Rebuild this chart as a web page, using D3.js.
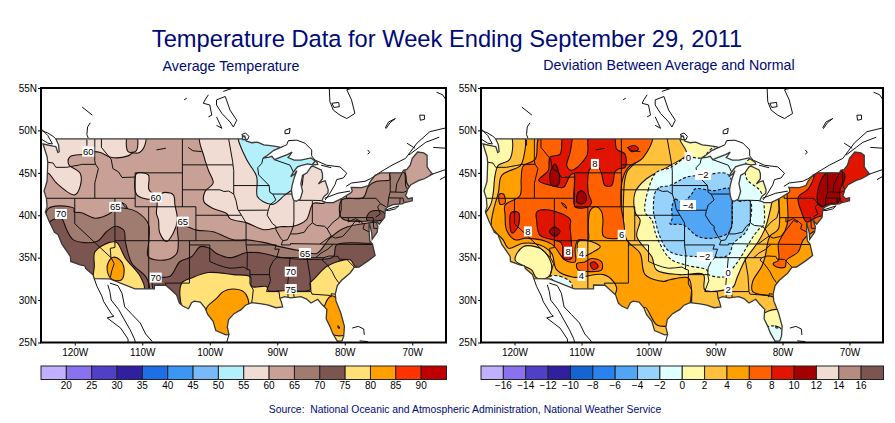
<!DOCTYPE html>
<html>
<head>
<meta charset="utf-8">
<script src="https://cdnjs.cloudflare.com/ajax/libs/d3/7.8.5/d3.min.js"></script>
<style>
  html, body { margin: 0; padding: 0; background: #fff; }
  text { font-family: "Liberation Sans", Arial, sans-serif; }
</style>
</head>
<body>
<svg id="chart" width="895" height="423"></svg>
<script>
// everything below is lon/lat or degrees F
const tempLevels = [20,25,30,35,40,45,50,55,60,65,70,75,80,85,90];
const devLevels = [-16,-14,-12,-10,-8,-6,-4,-2,0,2,4,6,8,10,12,14,16];
const tempColors = ['#c0b0ff','#8a72ee','#5040c8','#3020a0','#1e6ee6','#3c96f5','#78b9fa','#b4f0fa','#f0dcd2','#c8a096','#a07c70','#7d5550','#ffe178','#ffa000','#ff3200','#c00000'];
const devColors = ['#c0b0ff','#8a72ee','#5040c8','#3020a0','#1464d2','#2882f0','#50a5f5','#96d2fa','#e1ffff','#fffaaa','#ffc03c','#ffa000','#ff6000','#e11400','#a50000','#f0dcd2','#b48c82','#7d5550'];
const latTicks = [25,30,35,40,45,50,55];
const lonTicks = [-120,-110,-100,-90,-80,-70];

const usOutline = [[-124.7,48.4],[-123.2,48.15],[-122.8,48.1],[-122.5,47.4],[-122.3,47.5],[-122.4,48.3],[-122.8,49],[-95.15,49],[-95.15,49.38],[-94.8,49.3],[-94.6,48.75],[-93.8,48.55],[-92.95,48.62],[-92,48.3],[-91,48.2],[-90,48.1],[-89.5,48],[-90.5,47.65],[-91.5,47.05],[-92.1,46.75],[-91.2,46.85],[-90.8,46.95],[-90.4,46.55],[-89.5,46.85],[-88.5,47.15],[-87.8,47.45],[-88.2,47],[-88.4,46.8],[-87.5,46.5],[-86.5,46.5],[-85,46.75],[-84.5,46.45],[-84.1,46.25],[-84,46],[-84.7,45.95],[-85.5,46.05],[-86.5,45.85],[-87,45.7],[-87.6,45.1],[-88,44.55],[-87.4,44.9],[-87.1,45.25],[-87.5,44.4],[-87.8,43.5],[-87.9,43],[-87.8,42.3],[-87.6,41.8],[-87.2,41.65],[-86.6,41.9],[-86.25,42.8],[-86.5,43.7],[-86.25,44.7],[-85.6,45],[-85,45.7],[-84.7,45.78],[-83.5,45.35],[-83.3,44.9],[-83.3,44.3],[-83.9,43.7],[-83.4,43.95],[-82.9,44.05],[-82.45,43],[-82.5,42.6],[-83.1,42.2],[-83.4,41.7],[-82.7,41.5],[-81.7,41.5],[-80.5,41.95],[-79,42.7],[-78.9,42.9],[-79.05,43.27],[-77.5,43.25],[-76.5,43.5],[-76.2,44],[-75.5,44.7],[-74.7,45],[-71.5,45],[-71.3,45.3],[-70.8,45.4],[-70.3,45.9],[-70,46.7],[-69.2,47.45],[-68.3,47.35],[-67.8,47.05],[-67.8,45.7],[-67.45,45.3],[-67,44.85],[-68.2,44.3],[-69,44.1],[-70.2,43.6],[-70.7,43.05],[-70.8,42.7],[-71,42.3],[-70.6,41.95],[-70,42.05],[-70,41.7],[-71.1,41.5],[-71.5,41.35],[-72.9,41.25],[-73.7,40.95],[-74,40.7],[-74,40.5],[-74.1,39.75],[-74.9,38.95],[-75.5,39.5],[-75.1,38.7],[-75.2,38],[-75.95,37.15],[-76,37.9],[-76.4,39.2],[-76.4,38.3],[-76.3,37],[-75.9,36.6],[-75.5,35.25],[-76.5,34.65],[-77.9,33.9],[-78.6,33.85],[-79.2,33.2],[-80.5,32.3],[-81.1,31.7],[-81.4,30.7],[-81.3,29.9],[-80.6,28.5],[-80.05,26.9],[-80.15,25.75],[-80.4,25.2],[-81.1,25.15],[-81.8,26.1],[-82.2,26.9],[-82.75,27.8],[-82.65,28.9],[-83.4,29.5],[-84,30.1],[-85,29.65],[-85.7,30.15],[-86.5,30.4],[-88,30.25],[-88.9,30.4],[-89.6,30.2],[-89.4,29.8],[-89.2,29.2],[-90.2,29.1],[-91.3,29.4],[-92.3,29.55],[-93.8,29.7],[-94.7,29.4],[-95.3,28.9],[-96.4,28.4],[-97.2,27.7],[-97.4,26.8],[-97.15,25.95],[-97.6,25.9],[-99.1,26.4],[-99.5,27.5],[-100.3,28.3],[-100.7,29.1],[-101.4,29.77],[-102.3,29.88],[-102.7,29.7],[-103.15,28.98],[-104,29.3],[-104.5,29.65],[-104.9,30.6],[-106.5,31.75],[-108.2,31.78],[-108.2,31.33],[-111.07,31.33],[-114.8,32.5],[-117.12,32.53],[-117.3,33],[-118.4,33.75],[-118.5,34.03],[-119.2,34.15],[-120.6,34.55],[-120.65,35.15],[-121.9,36.6],[-122.5,37.75],[-123,38],[-123.8,39.3],[-124.35,40.4],[-124.1,41],[-124.2,42],[-124.55,42.85],[-124.1,44],[-124,46.2],[-124.1,46.9]];

const stateLines = [
  [[-124,46.25],[-123.2,46.15],[-122.8,45.65],[-121.2,45.65],[-119.3,45.93],[-118.98,46],[-116.92,46]],
  [[-117.03,49],[-117.04,46.42],[-116.92,46],[-116.5,45.5],[-116.9,44.2],[-117.03,43.8],[-117.03,42]],
  [[-124.2,42],[-111.05,42]],
  [[-120,42],[-120,39],[-114.63,35],[-114.15,34.3],[-114.5,33.5],[-114.72,32.72]],
  [[-114.05,42],[-114.05,36.2],[-114.75,36.1],[-114.63,35]],
  [[-114.05,37],[-94.62,37]],
  [[-116.05,49],[-116.05,48],[-114.6,46.6],[-114.35,45.5],[-113.5,45.1],[-113,44.45],[-111.05,44.5]],
  [[-111.05,45],[-104.05,45]],
  [[-111.05,45],[-111.05,41],[-102.05,41],[-102.05,37]],
  [[-109.05,41],[-109.05,31.33]],
  [[-104.05,49],[-104.05,41]],
  [[-104.05,45.94],[-96.56,45.94]],
  [[-104.05,43],[-98.5,43],[-97.9,42.8],[-97.2,42.85],[-96.45,42.5]],
  [[-102.05,40],[-95.3,40]],
  [[-103,37],[-103,32],[-106.6,32],[-106.5,31.75]],
  [[-103,36.5],[-100,36.5],[-100,34.56],[-99,34.2],[-97.9,33.9],[-97,33.75],[-96,33.8],[-95,33.9],[-94.48,33.64],[-94.05,33.55],[-94.05,31.9],[-93.55,31.2],[-93.7,30.1],[-93.8,29.7]],
  [[-94.62,39.1],[-94.62,36.5],[-94.43,35.4],[-94.48,33.64]],
  [[-94.62,39.1],[-95.3,40]],
  [[-94.62,36.5],[-90.15,36.5],[-90.37,36],[-89.7,36],[-90.1,35],[-90.6,34.6],[-91.1,33.8],[-91.15,33],[-91,32.3],[-91.6,31],[-89.75,31],[-89.6,30.2]],
  [[-94.05,33],[-91.15,33]],
  [[-88.2,35],[-88.1,34.9],[-88.45,31.9],[-88.4,30.3]],
  [[-90.1,35],[-83.1,35]],
  [[-85.6,35],[-85.15,32.85],[-85,31],[-87.6,31],[-87.5,30.3]],
  [[-85,31],[-84.85,30.7],[-82.2,30.55],[-82.05,30.35],[-82,30.75],[-81.45,30.7]],
  [[-83.1,35],[-83.35,34.7],[-82.75,34.3],[-81.9,33.4],[-81.4,32.6],[-80.9,32.05]],
  [[-83.1,35],[-82.3,35.2],[-81,35.15],[-80.8,34.82],[-79.7,34.8],[-78.55,33.85]],
  [[-84.3,35],[-83.5,35.55],[-82.5,36],[-81.7,36.58]],
  [[-89.4,36.5],[-88.05,36.5],[-88.05,36.65],[-83.68,36.6],[-75.9,36.55]],
  [[-89.4,36.5],[-89.2,37],[-88.5,37.1],[-88.05,37.8],[-87.1,37.8],[-86,38],[-85.4,38.7],[-84.8,39.1],[-84.2,38.8],[-83,38.7],[-82.6,38.4],[-82,37.55],[-83.68,36.6]],
  [[-82.6,38.4],[-81.7,39.2],[-80.85,39.7],[-80.52,40.64],[-80.52,41.98]],
  [[-82,37.55],[-81.4,37.3],[-80.3,37.5],[-79.3,38.4],[-78.35,39.4],[-77.8,39.15],[-77.72,39.32],[-78.4,39.6],[-79.48,39.2],[-79.48,39.72]],
  [[-80.52,39.72],[-75.79,39.72],[-75.7,38.46],[-75.05,38.45]],
  [[-77.72,39.32],[-77.1,38.9],[-77.3,38.4],[-76.3,38]],
  [[-79.76,42.27],[-79.76,42],[-75.35,42],[-74.7,41.36],[-75.13,40.98],[-74.72,40.15],[-75.4,39.8]],
  [[-74.7,41.36],[-73.9,41]],
  [[-73.65,41],[-73.5,42.05],[-73.27,42.75],[-73.25,43.6],[-73.35,45]],
  [[-73.5,42.05],[-71.38,42.02],[-71.2,41.5]],
  [[-71.8,42.02],[-71.85,41.32]],
  [[-73.27,42.75],[-71.3,42.7],[-70.8,42.87]],
  [[-72.46,42.73],[-72.3,43.7],[-71.5,45]],
  [[-71.08,45.3],[-70.98,43.4],[-70.7,43.08]],
  [[-86.8,41.76],[-84.8,41.76],[-83.45,41.73]],
  [[-84.8,41.7],[-84.8,39.1]],
  [[-87.53,41.7],[-87.53,39.35],[-87.6,38.7],[-88.05,37.8]],
  [[-90.65,42.5],[-87.8,42.5]],
  [[-92.1,46.75],[-92.3,46.1],[-92.9,45.6],[-92.75,44.75],[-91.2,43.5],[-91.1,42.7],[-90.65,42.5],[-90.2,41.8],[-91.1,41.2],[-91.4,40.4],[-91.5,40],[-90.7,39],[-90.2,38.7],[-90.2,38.3],[-89.5,37.3],[-89.15,37]],
  [[-95.77,40.58],[-91.4,40.6]],
  [[-96.45,43.5],[-91.2,43.5]],
  [[-96.45,43.5],[-96.45,42.5],[-96.1,41.7],[-95.85,40.7],[-95.3,40]],
  [[-97.2,49],[-96.6,46.3],[-96.56,45.94],[-96.45,45.3],[-96.45,43.5]],
  [[-90.4,46.55],[-88.1,45.9],[-87.6,45.1]]
];

const otherCoasts = [
  [[-125,50.2],[-124,49.4],[-123.3,48.4],[-124,48.5],[-125,49]],
  [[-125,50],[-124,49.7],[-123.2,49.3],[-122.8,49]],
  [[-118.9,52.75],[-117.4,51.8]],
  [[-117.7,50.9],[-118.1,50.4],[-118.2,49.5],[-118,49.1]],
  [[-118.2,48.9],[-118.2,48.2]],
  [[-103.8,53.6],[-103.4,53.8]],
  [[-100.2,54.2],[-100.7,53.6],[-100.95,53.2],[-100,53],[-99.7,51.8],[-100.2,51.6]],
  [[-99,53],[-99,53.6],[-97.7,54],[-97,52.4],[-96,51.2],[-96.5,50.4],[-97,51],[-98.2,52],[-99,53]],
  [[-98,54.6],[-96.5,55]],
  [[-99,51.6],[-98.2,50.25],[-99,50.6]],
  [[-95.3,49.5],[-94.7,49.7],[-94.2,49.3],[-94.4,48.9],[-95.2,48.9]],
  [[-88.85,50],[-88.1,50.25],[-88.2,49.65],[-88.85,49.6],[-88.85,50]],
  [[-89.5,48],[-88.6,48.3],[-88.35,48.8],[-87.1,48.85],[-85.9,48.5],[-84.9,47.7],[-84.9,47],[-84.4,46.5],[-82.7,45.9],[-80.7,45.7],[-79.7,44.95],[-80.2,44.4],[-81.2,44.2],[-81.45,43.6],[-82.2,42.6],[-82.9,41.8]],
  [[-83.5,45.9],[-82,45.6]],
  [[-83,42],[-81,42.6],[-79.2,42.85]],
  [[-79.8,43.4],[-79,43.8],[-77,44],[-76.2,44.3],[-74.7,45.1],[-73,45.9],[-71,46.7],[-69.3,48.5],[-67.4,49.85],[-65,50.3]],
  [[-70.5,47.1],[-69,48],[-68,48.6],[-66,49.2]],
  [[-66.9,48],[-65,47.9]],
  [[-70.8,48.5],[-69.6,47.9]],
  [[-67.4,44.75],[-65,45.4]],
  [[-65.9,44.2],[-65,44.6]],
  [[-82.3,55],[-82.2,53.4],[-81.7,52.4],[-80.7,51.8],[-79.7,51.4],[-78.5,52],[-79,53.6],[-79.7,54.8],[-78.7,55]],
  [[-81.9,53.2],[-80.9,53.3],[-80.8,52.8],[-81.6,52.7],[-81.9,53.2]],
  [[-74,50.3],[-73.5,51],[-72.5,51.4],[-73.3,50.9],[-73.9,50.2]],
  [[-68.9,51.8],[-68.2,51.8],[-68.2,51.3],[-68.8,51.2],[-68.9,51.8]],
  [[-76.6,47.7],[-76.3,47.4],[-76.6,47.2]],
  [[-66.4,54.5],[-65.5,54.2],[-65,53.6]],
  [[-74,40.6],[-72,41.1],[-72.5,40.75],[-73.5,40.55],[-74,40.6]],
  [[-117.1,32.5],[-116.7,31.6],[-116,30.5],[-115.7,29.8],[-114.5,28.3],[-114.2,28.1],[-115.2,27.9],[-114.2,27.3],[-113.2,26.7],[-112.1,25.4],[-112.1,25]],
  [[-115.1,31.8],[-114.8,31],[-114.6,30],[-113.5,28.9],[-112.8,27.9],[-111.8,26.5],[-111.2,25.5],[-111,25]],
  [[-114.8,32],[-113.6,31.7],[-113,30.8],[-112.6,29.2],[-111.5,28.3],[-110.3,27.3],[-109.5,26],[-108.5,25.1]],
  [[-97.15,25.95],[-97.5,25]],
  [[-78.9,26.7],[-78,26.9],[-77.2,26.6],[-77.1,25.9]],
  [[-77.8,25.2],[-76.6,25.1]],
  [[-81,27],[-80.7,26.7],[-81,26.7],[-81,27]],
  [[-107.9,47.7],[-106.5,47.9]],
  [[-103.2,48],[-102.5,47.6],[-101.2,47.5]],
  [[-113,41.5],[-112.4,41.2],[-112.2,40.8],[-112.7,41.1],[-113,41.5]]
];

// [lower bound of the band, ring], painted in order over the base value
const tempBase = 60;
const tempBands = [
  [55, [[-125,49.5],[-109.6,49.5],[-109.6,48.3],[-110.4,47.4],[-111.5,47.3],[-112.1,47],[-114.5,46.8],[-116.2,47.4],[-117.2,47.5],[-118.5,47.2],[-120.7,46.9],[-120.9,46],[-119.2,44.95],[-119.2,43.4],[-120,42.4],[-122.7,43.8],[-123.9,44.95],[-125,45]]],
  [60, [[-112.1,49.6],[-110.9,49.6],[-110.9,47.6],[-112.1,47.5]]],
  [55, [[-110.8,44.95],[-109.1,44.75],[-109,43],[-107.9,42.4],[-106.6,42.7],[-105.4,42.4],[-105.15,41.2],[-104.8,39.45],[-105.4,37.9],[-106.4,36.9],[-107.4,37.9],[-107.6,39.45],[-107.9,40.2],[-107.9,41.8],[-109.3,41.9],[-110.8,42.4],[-111.1,44.2]]],
  [55, [[-101.4,49.5],[-100.85,46.9],[-100.2,45.3],[-99.5,43.8],[-100.7,42.8],[-100.85,41.6],[-99.5,40.8],[-97.5,40.2],[-97,39.6],[-94.5,39.1],[-92,38.3],[-90.3,38.5],[-89.6,38.65],[-87.6,38.7],[-85.7,39.45],[-84.65,41.4],[-83.2,41.4],[-82,42],[-82,46.5],[-90,47],[-94,49.5]]],
  [50, [[-95.8,49.6],[-95.8,49],[-94.5,46.5],[-93.05,44.55],[-92.95,42.2],[-92.06,41.6],[-90.6,41.3],[-88.85,42.4],[-87.7,43],[-86.4,43.4],[-86.1,44.75],[-84.9,45.9],[-84.25,46.7],[-87.1,49.3]]],
  [65, [[-124.5,39.8],[-123.9,40.8],[-122.2,41.1],[-120.1,40.8],[-120.1,40.4],[-119,40.3],[-117,39.65],[-114.8,40.2],[-114,40.8],[-112.3,40.8],[-110.8,40.4],[-109.1,39],[-109,37.1],[-109.1,35.1],[-106.4,34.75],[-104.9,35.5],[-104.65,36.9],[-104.65,38.85],[-101.95,38.25],[-99.5,38.05],[-96.5,37.1],[-94.5,37.1],[-92.05,36.8],[-89.6,36.3],[-85.9,35.7],[-84.15,35.5],[-82.2,37.3],[-80.2,38.45],[-76.75,39.05],[-75,39.05],[-74,36],[-75,30],[-100,25],[-120,30],[-126,38]]],
  [65, [[-80.45,41.8],[-77.25,42.1],[-76.5,43.4],[-75.3,44],[-73.3,44.2],[-73.3,44.95],[-71.1,44.95],[-70.8,43.8],[-69.8,42.6],[-69.5,41],[-73,39],[-74,39.8],[-77,39.3],[-80.45,39.65]]],
  [70, [[-76.25,40.4],[-74.3,40.4],[-74,39.6],[-76.75,39.45]]],
  [70, [[-122.05,39.65],[-121.2,38.3],[-120.2,37.1],[-116.75,36.9],[-115.3,38.05],[-114,38.7],[-112.7,38.2],[-112.5,36.9],[-111.55,34.35],[-109.35,32.6],[-109.1,31],[-117,31],[-122,33.5],[-124,37],[-124,39]]],
  [70, [[-108.35,32.55],[-105.9,32.8],[-104.4,34.55],[-102.7,35.1],[-101.4,36.3],[-100,36.1],[-99,35.5],[-97,35],[-94.5,35.6],[-92,35.5],[-90,35.1],[-88,34.9],[-85.1,34.8],[-81.7,35.1],[-81.2,36.5],[-76.3,36.7],[-74,36.7],[-74,33],[-74,30],[-100,26],[-108,30.5]]],
  [75, [[-117,35.7],[-114.85,36.8],[-113.8,36.8],[-112.5,34.95],[-110.3,32.8],[-109.75,31.2],[-116,31],[-117.2,32.6],[-117.1,34]]],
  [80, [[-115,34.5],[-114.3,35.05],[-113.3,34.75],[-112.7,33.75],[-113.05,32.4],[-114.5,32.45],[-115.2,33.55]]],
  [75, [[-104.15,32],[-102.7,32.6],[-100.2,33.25],[-96.5,33],[-94,32.75],[-93.8,31.6],[-91.6,31.6],[-91.3,31.1],[-89.1,31.1],[-85.15,31.2],[-85.15,32],[-84.65,32.4],[-82.7,33.95],[-81,34.55],[-79.2,34.75],[-78.5,34],[-77,33],[-79,30],[-80,24],[-90,27],[-100,26],[-104,29]]],
  [80, [[-100.5,29],[-99,30.2],[-98,31],[-96.7,31.3],[-95,31],[-94.4,30.3],[-94.2,29.2],[-95,27],[-97,25],[-100,27]]],
  [80, [[-82,30.5],[-81,30],[-79.8,27.7],[-79.4,26.1],[-81.7,25.9],[-83,27.3],[-83,29.3]]]
];

const devBase = 4;
const devBands = [
  [2, [[-99.3,49.6],[-99.5,49],[-101.3,46.65],[-103.25,45.05],[-103.75,41.5],[-103.75,39.95],[-103.75,39.44],[-103.25,37.1],[-101.25,35.5],[-100.5,33],[-97.8,32.2],[-96.8,32.4],[-94.05,32.6],[-93.55,31],[-93.55,29.8],[-93,28],[-85,27.8],[-82.4,27.9],[-81.4,28.6],[-80.4,29],[-78,30],[-70,35],[-66,42],[-66,48],[-75,48],[-90,50]]],
  [0, [[-83,28.2],[-81,28.9],[-79.5,28.5],[-79.5,25.8],[-83,25.5]]],
  [-2, [[-82.3,26.8],[-80.5,26.8],[-80,26.3],[-80,24.5],[-82,24.5]]],
  [0, [[-95.3,50],[-95.3,48.9],[-94.3,47.2],[-96.8,45.85],[-100.3,44.3],[-102,42.7],[-102,40.35],[-101.25,39.44],[-101.75,37.5],[-99.5,35.1],[-98.8,33.55],[-95.3,33],[-91.8,33],[-91.6,31.2],[-88.6,31.2],[-87.3,31.6],[-86.8,32.6],[-85.6,34.7],[-83.6,36.9],[-82.6,38.45],[-81.6,41.5],[-81.4,42.7],[-82.1,43.5],[-82.4,45.1],[-84.6,47],[-87,50]]],
  [-2, [[-98.8,45.07],[-100,43.1],[-100.5,40.35],[-99.5,39.44],[-98.8,37.5],[-96.8,34.9],[-94.3,34.1],[-91.3,33.55],[-91.05,33],[-88.3,32.8],[-87.6,33.55],[-86.35,34.9],[-84.85,36.9],[-83.6,38.3],[-82.85,38.8],[-82.85,41.7],[-83.35,42.9],[-85.35,44.3],[-85.45,46.2],[-84.85,46.8],[-87,48.5],[-90.3,48],[-92,46.8],[-94.3,46.8],[-96.8,45.6]]],
  [-4, [[-99,42.7],[-98.3,43.3],[-96.8,43.5],[-94.3,44.5],[-91.8,44.7],[-88.3,44.9],[-87.3,43.5],[-86.6,41.7],[-84.85,41.7],[-84.85,39.2],[-85.6,37.9],[-87.3,36.7],[-88.1,35.3],[-91.3,35.1],[-96.8,35.7],[-98.3,37.5],[-99,39.44],[-99.25,40.35]]],
  [-6, [[-96.5,41],[-96,41.9],[-95,41.5],[-93.55,42.5],[-93.05,43.1],[-90.3,42.9],[-87.8,43.1],[-87.5,40.35],[-87.6,38.6],[-88.1,37.9],[-90.3,37.3],[-92.6,37.5],[-94.8,38.85],[-96.8,39],[-96.5,39.5]]],
  [2, [[-118.7,49.6],[-118.7,46.6],[-119.2,45.8],[-121.9,44.7],[-122.4,42.7],[-123.2,40.4],[-123.4,38.65],[-121.7,37.1],[-120.9,36.1],[-118.7,36.7],[-116.2,36.5],[-114.45,35.5],[-113.7,33.55],[-111.2,32.7],[-106.7,33],[-105.25,32.2],[-104.75,31.2],[-106,30],[-118,30],[-126,36],[-126,49.6]]],
  [0, [[-120.7,49.6],[-120.7,46.6],[-122.4,45.9],[-122.9,44.7],[-123.2,42.5],[-123.65,41.1],[-125,40],[-126,49.6]]],
  [0, [[-119.9,34.7],[-118.7,36.3],[-116.2,36.1],[-114.95,35.1],[-114.45,33.55],[-115.2,32.6],[-116.7,32.6],[-117.45,33.55]]],
  [-2, [[-114.7,32.8],[-113.2,32.8],[-111.5,32],[-111.5,31.3],[-113.2,31.7]]],
  [2, [[-100.5,29.15],[-98.8,27.1],[-97.5,26.9],[-96.5,27],[-97,25],[-99,25.5],[-101,28]]],
  [6, [[-116,49.6],[-99.5,49.6],[-100.8,46.8],[-103,45.65],[-103.85,44.3],[-104.1,41.1],[-103.75,39.44],[-103.75,37.5],[-106.7,37.5],[-106.8,39.44],[-107,40.4],[-107.8,41],[-108.7,40.55],[-109,38.4],[-109,37.1],[-110.5,37.1],[-110.95,36.1],[-110.95,34.5],[-112.45,34.7],[-114.45,36.6],[-118.2,37.3],[-119.9,37.1],[-121.2,38.3],[-121.4,40],[-121.4,41.2],[-119.2,42.3],[-119,44.3],[-118.7,45.8],[-116.9,46.6]]],
  [2, [[-110.5,36.9],[-109,37],[-107.2,36.3],[-108.2,35.7],[-110.2,35.1]]],
  [6, [[-110.7,34.3],[-109.5,34.5],[-108.5,34.9],[-107,34.5],[-107,33.55],[-108.7,33.35],[-110.5,33.55]]],
  [8, [[-108.7,34.3],[-108.1,34.5],[-107.5,33.95],[-108.2,33.6]]],
  [6, [[-122.25,42.5],[-121.65,42.5],[-121.4,41.45],[-122.15,41.3]]],
  [8, [[-116.4,44.1],[-114.95,45.3],[-114.7,46.85],[-113.2,47.2],[-112.7,49.6],[-111.5,49.6],[-111.7,47.4],[-112.2,45.85],[-111.5,45.3],[-109.2,47],[-108.8,49.6],[-105.25,49.6],[-104.75,47.8],[-103.5,47.2],[-103.5,45.65],[-104.5,45.45],[-105,45.1],[-105.5,43.5],[-106.5,43.5],[-107,44.9],[-107.5,45.65],[-108.7,45.5],[-109,42.7],[-108.5,41.5],[-109,41],[-110.95,41],[-111.1,44.9],[-111.7,44.7],[-112.7,43.3],[-114.45,43.5]]],
  [10, [[-114.7,44.9],[-113.95,46.05],[-113.3,44.7],[-113.45,43.6],[-114.45,43.5]]],
  [10, [[-110.6,42.5],[-110,42.9],[-109.3,42.3],[-109.5,41.45],[-110.6,41.45]]],
  [8, [[-120.5,40.3],[-119.4,40.3],[-119.5,38.6],[-120.4,37.9]]],
  [8, [[-116.7,40.35],[-115.2,40.65],[-111.7,39.55],[-111.7,38.65],[-111.5,36.7],[-111.5,34.9],[-112.7,34.9],[-113,36.7],[-116.2,37.65],[-116.7,39.44]]],
  [10, [[-114.8,38.1],[-114,38.6],[-113.2,38.1],[-114,37.5]]],
  [8, [[-103,48],[-102,48.2],[-101.5,47.8],[-102.5,47.5]]],
  [4, [[-80.8,44],[-80.8,43.5],[-80.6,38.4],[-81.9,37.5],[-82.6,35.1],[-83.1,33.95],[-84.45,32.2],[-84.45,31],[-81.9,30.5],[-79,30],[-70,36],[-70,44]]],
  [6, [[-79.3,42.6],[-79.2,39.4],[-79.6,38.2],[-80.6,36.7],[-80.6,34.7],[-81.4,34.3],[-80.9,33.9],[-79.6,33.9],[-79.4,34.7],[-77.65,35.7],[-76.9,37.1],[-75.5,38],[-70,40],[-70,44],[-79,44]]],
  [8, [[-77.65,42.1],[-77.15,40.35],[-76.4,39.2],[-74.9,39.75],[-70,41],[-66,47],[-67,48],[-75,46],[-75.15,44.9],[-76.15,43.1]]],
  [10, [[-74.75,41.5],[-74.55,43.5],[-73.4,45],[-70.9,45.05],[-70.7,44.3],[-71.4,43.1],[-71.65,41.5],[-73.4,41.3],[-74.1,41]]]
];

const tempLabels = [[60,-118,47.5],[65,-114,41],[70,-122.05,40.15],[60,-108,42.1],[65,-104,39.25],[70,-108,32.65],[65,-85.9,35.55],[70,-88,33.35],[75,-88,31.3]];
const devLabels = [[8,-108,46.05],[0,-94.05,46.85],[-2,-91.85,44.75],[-4,-94.1,41.2],[8,-118,38.1],[6,-104,37.7],[8,-112,35.7],[4,-110,35.55],[4,-110,32.85],[-2,-91.6,35.1],[0,-88.1,33.2],[2,-88.1,31.2]];

const navy = '#000a78';
const svg = d3.select('#chart');
const fmtNum = d => String(d).replace('-', '\u2212');

svg.append('text').attr('x', 447).attr('y', 47).attr('text-anchor', 'middle')
  .attr('font-size', 23.7).attr('fill', navy)
  .text('Temperature Data for Week Ending September 29, 2011');
svg.append('text').attr('x', 231).attr('y', 71).attr('text-anchor', 'middle')
  .attr('font-size', 14.3).attr('fill', navy).text('Average Temperature');
svg.append('text').attr('x', 669).attr('y', 70).attr('text-anchor', 'middle')
  .attr('font-size', 14.2).attr('fill', navy).text('Deviation Between Average and Normal');
svg.append('text').attr('x', 465).attr('y', 413).attr('text-anchor', 'middle')
  .attr('font-size', 10.4).attr('fill', navy).style('white-space', 'pre')
  .text('Source:  National Oceanic and Atmospheric Administration, National Weather Service');

function drawMap(id, x0, x1, base, bands, labels, levels, colors) {
  const x = d3.scaleLinear().domain([-125, -65]).range([x0, x1]);
  const y = d3.scaleLinear().domain([25, 55]).range([342.5, 88]);
  const color = d3.scaleThreshold().domain(levels).range(colors);
  const g = svg.append('g');

  const open = d3.line().x(d => x(d[0])).y(d => y(d[1]));
  const closed = d3.line().x(d => x(d[0])).y(d => y(d[1])).curve(d3.curveLinearClosed);
  const smooth = d3.line().x(d => x(d[0])).y(d => y(d[1])).curve(d3.curveCatmullRomClosed.alpha(0.5));

  const defs = svg.append('defs');
  defs.append('clipPath').attr('id', 'us' + id).append('path').attr('d', closed(usOutline));
  defs.append('clipPath').attr('id', 'frame' + id).append('rect')
    .attr('x', x0).attr('y', 88).attr('width', x1 - x0).attr('height', 254.5);

  g.append('path').attr('d', closed(usOutline)).attr('fill', color(base));

  const fills = g.append('g').attr('clip-path', 'url(#us' + id + ')');
  fills.selectAll('path').data(bands).join('path')
    .attr('d', d => smooth(d[1]))
    .attr('fill', d => color(d[0]))
    .attr('stroke', '#1a1010').attr('stroke-width', 1.1)
    .attr('stroke-dasharray', d => d[0] < -0.5 ? '3 2' : null);

  const lines = g.append('g').attr('clip-path', 'url(#frame' + id + ')').attr('fill', 'none');
  lines.selectAll('path.state').data(stateLines).join('path').attr('class', 'state')
    .attr('d', open).attr('stroke', '#111').attr('stroke-width', 1);
  lines.selectAll('path.coast').data(otherCoasts).join('path').attr('class', 'coast')
    .attr('d', open).attr('stroke', '#111').attr('stroke-width', 1);
  lines.append('path').attr('d', closed(usOutline)).attr('stroke', '#3a3a3a').attr('stroke-width', 1.3);

  const lab = g.append('g').selectAll('g').data(labels).join('g')
    .attr('transform', d => `translate(${x(d[1])},${y(d[2])})`);
  lab.append('rect').attr('x', d => d[0] < 0 ? -8 : (Math.abs(d[0]) < 10 ? -4 : -6)).attr('y', -5)
    .attr('width', d => d[0] < 0 ? 16 : (Math.abs(d[0]) < 10 ? 8 : 12)).attr('height', 10).attr('fill', '#fff');
  lab.append('text').attr('text-anchor', 'middle').attr('y', 3.5).attr('font-size', 9.5).attr('fill', '#000')
    .text(d => fmtNum(d[0]));

  // axes
  const ax = g.append('g').attr('transform', 'translate(0,342.5)')
    .call(d3.axisBottom(x).tickValues(lonTicks).tickSize(3).tickFormat(d => Math.abs(d) + 'W'));
  ax.selectAll('.domain').remove();
  ax.selectAll('text').attr('font-size', 10).attr('font-family', '"Liberation Sans"').attr('fill', '#000').attr('y', 6);
  const ay = g.append('g').attr('transform', `translate(${x0},0)`)
    .call(d3.axisLeft(y).tickValues(latTicks).tickSize(3).tickFormat(d => d + 'N'));
  ay.selectAll('.domain').remove();
  ay.selectAll('text').attr('font-size', 10).attr('font-family', '"Liberation Sans"').attr('fill', '#000').attr('x', -4);
  g.append('rect').attr('x', x0).attr('y', 88).attr('width', x1 - x0).attr('height', 254.5)
    .attr('fill', 'none').attr('stroke', '#000').attr('stroke-width', 2);

  // colour bar
  const band = d3.scaleBand().domain(d3.range(colors.length)).range([x0, x1 + 0.5]);
  const bar = g.append('g');
  bar.selectAll('rect').data(colors).join('rect')
    .attr('x', (d, i) => band(i)).attr('y', 366).attr('width', band.bandwidth()).attr('height', 13.5)
    .attr('fill', d => d).attr('stroke', '#222').attr('stroke-width', 1);
  bar.selectAll('text').data(levels).join('text')
    .attr('x', (d, i) => band(i + 1)).attr('y', 389).attr('text-anchor', 'middle')
    .attr('font-size', 10).attr('fill', '#000').text(fmtNum);
}

drawMap('T', 41, 446, tempBase, tempBands, tempLabels, tempLevels, tempColors);
drawMap('D', 481, 883, devBase, devBands, devLabels, devLevels, devColors);
</script>
</body>
</html>
